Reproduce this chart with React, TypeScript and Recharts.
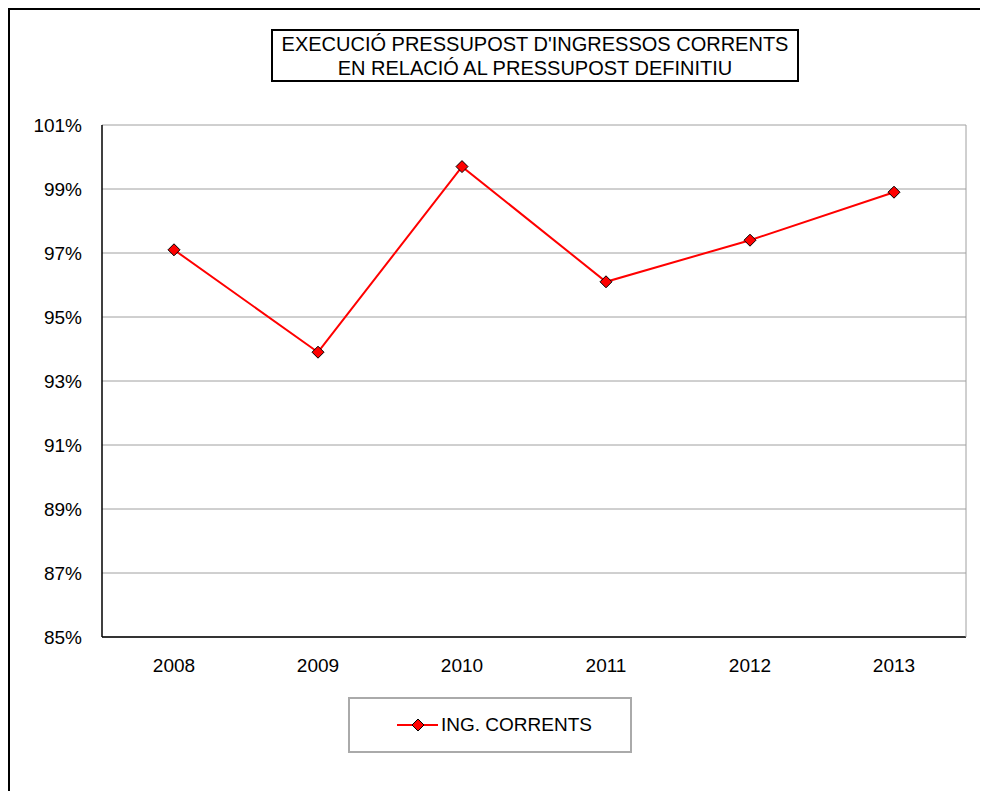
import React from 'react';
import { LineChart, Line, XAxis, YAxis, CartesianGrid, Legend } from 'recharts';

const years = ['2008', '2009', '2010', '2011', '2012', '2013'];
const ingCorrents = [97.1, 93.9, 99.7, 96.1, 97.4, 98.9];
const yTicks = [85, 87, 89, 91, 93, 95, 97, 99, 101];
const minorTicks = [1, 2, 3, 4, 5];
const seriesName = 'ING. CORRENTS';
const titleLines = ["EXECUCIÓ PRESSUPOST D'INGRESSOS CORRENTS", 'EN RELACIÓ AL PRESSUPOST DEFINITIU'];

const data = years.map((y, i) => ({ year: y, idx: i + 0.5, value: ingCorrents[i] }));

const FONT = '"Liberation Sans", Arial, sans-serif';

const Diamond = (props: any) => {
  const { cx, cy } = props;
  if (cx == null || cy == null) return null;
  const r = 6;
  return (
    <polygon
      points={`${cx},${cy - r} ${cx + r},${cy} ${cx},${cy + r} ${cx - r},${cy}`}
      fill="#ff0000"
      stroke="#000"
      strokeWidth={1}
    />
  );
};

const LegendContent = (props: any) => {
  const list = (props.payload || []).filter((p: any) => p.type !== 'none');
  const item = list[0] || { value: seriesName, color: '#ff0000' };
  return (
    <div
      style={{
        boxSizing: 'border-box',
        width: 284,
        height: 56,
        border: '2px solid #aaaaaa',
        display: 'flex',
        alignItems: 'center',
        paddingLeft: 47,
        fontFamily: FONT,
        fontSize: 19,
        color: '#000',
        background: '#fff',
      }}
    >
      <svg width={42} height={14} style={{ display: 'block' }}>
        <line x1={0} y1={7} x2={41} y2={7} stroke={item.color || '#ff0000'} strokeWidth={2} />
        <polygon points="21,1 27,7 21,13 15,7" fill="#ff0000" stroke="#000" strokeWidth={1} />
      </svg>
      <span style={{ marginLeft: 2 }}>{item.value}</span>
    </div>
  );
};

export default function App() {
  return (
    <div style={{ position: 'relative', width: 972, height: 783, fontFamily: FONT }}>
      <style>{'html,body{overflow:hidden;}'}</style>
      <div
        style={{
          position: 'absolute',
          left: 0,
          top: 0,
          width: 980,
          height: 791,
          borderTop: '2px solid #000',
          borderLeft: '2px solid #000',
          boxSizing: 'border-box',
          pointerEvents: 'none',
          zIndex: 5,
        }}
      />
      <div
        style={{
          position: 'absolute',
          left: 263,
          top: 21,
          width: 528,
          height: 53,
          boxSizing: 'border-box',
          border: '2px solid #000',
          textAlign: 'center',
          fontSize: 20,
          lineHeight: '24px',
          paddingTop: 1,
          color: '#000',
          background: '#fff',
          zIndex: 2,
        }}
      >
        {titleLines.map((t, i) => (
          <div key={i} style={{ whiteSpace: 'nowrap' }}>{t}</div>
        ))}
      </div>
      <LineChart
        width={972}
        height={783}
        data={data}
        margin={{ top: 117, right: 13, bottom: 114, left: 0 }}
        style={{ position: 'absolute', left: 0, top: 0 }}
      >
        <CartesianGrid vertical={false} stroke="#a0a0a0" strokeWidth={1} />
        <XAxis
          xAxisId="minor"
          type="number"
          dataKey="idx"
          domain={[0, 6]}
          ticks={minorTicks}
          allowDataOverflow
          tick={false}
          axisLine={false}
          tickLine={{ stroke: '#a0a0a0' }}
          tickSize={6}
          mirror
          height={1}
        />
        <XAxis
          dataKey="year"
          padding={{ left: 72, right: 72 }}
          tickLine={false}
          axisLine={{ stroke: '#000', strokeWidth: 1.5 }}
          tickSize={0}
          tickMargin={22}
          height={40}
          tick={{ fill: '#000', fontSize: 19, fontFamily: FONT }}
          interval={0}
        />
        <YAxis
          domain={[85, 101]}
          ticks={yTicks}
          interval={0}
          tickFormatter={(v: number) => `${v}%`}
          axisLine={{ stroke: '#000', strokeWidth: 1.5 }}
          tickLine={false}
          tickSize={4}
          tickMargin={16}
          width={94}
          tick={{ fill: '#000', fontSize: 19, fontFamily: FONT }}
          allowDataOverflow
        />
        <YAxis
          yAxisId="right"
          orientation="right"
          domain={[85, 101]}
          allowDataOverflow
          width={1}
          tick={false}
          tickLine={false}
          axisLine={{ stroke: '#a0a0a0' }}
        />
        <Legend
          layout="horizontal"
          verticalAlign="middle"
          align="center"
          wrapperStyle={{ left: 340, top: 689, width: 284, height: 56 }}
          content={<LegendContent />}
        />
        <Line
          type="linear"
          dataKey="value"
          xAxisId="minor"
          yAxisId="right"
          stroke="none"
          dot={false}
          activeDot={false}
          legendType="none"
          isAnimationActive={false}
        />
        <Line
          type="linear"
          dataKey="value"
          name={seriesName}
          stroke="#ff0000"
          strokeWidth={2}
          dot={(p: any) => <Diamond key={`d${p.index}`} {...p} />}
          activeDot={false}
          isAnimationActive={false}
        />
      </LineChart>
    </div>
  );
}
